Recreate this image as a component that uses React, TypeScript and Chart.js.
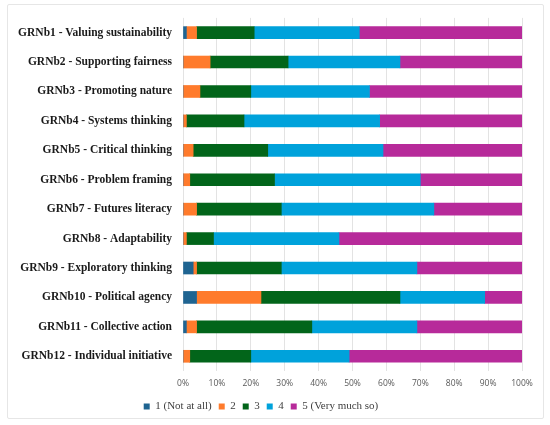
import { useEffect, useRef } from 'react';
import Chart from 'chart.js/auto';

const categories = [
  'GRNb1 - Valuing sustainability',
  'GRNb2 - Supporting fairness',
  'GRNb3 - Promoting nature',
  'GRNb4 - Systems thinking',
  'GRNb5 - Critical thinking',
  'GRNb6 - Problem framing',
  'GRNb7 - Futures literacy',
  'GRNb8 - Adaptability',
  'GRNb9 - Exploratory thinking',
  'GRNb10 - Political agency',
  'GRNb11 - Collective action',
  'GRNb12 - Individual initiative',
];

const seriesNames = ['1 (Not at all)', '2', '3', '4', '5 (Very much so)'];

// share of answers per category, in percent
const notAtAll = [1, 0, 0, 0, 0, 0, 0, 0, 3, 4, 1, 0];
const two = [3, 8, 5, 1, 3, 2, 4, 1, 1, 19, 3, 2];
const three = [17, 23, 15, 17, 22, 25, 25, 8, 25, 41, 34, 18];
const four = [31, 33, 35, 40, 34, 43, 45, 37, 40, 25, 31, 29];
const veryMuch = [48, 36, 45, 42, 41, 30, 26, 54, 31, 11, 31, 51];

const seriesColors = ['#1F6491', '#FF7B2C', '#02651A', '#00A2DB', '#B72A9A'];

const xTicks = ['0%', '10%', '20%', '30%', '40%', '50%', '60%', '70%', '80%', '90%', '100%'];

export default function App() {
  const canvasRef = useRef<HTMLCanvasElement | null>(null);

  useEffect(() => {
    document.body.style.margin = '0';
    if (!canvasRef.current) return;
    const values = [notAtAll, two, three, four, veryMuch];

    const chart = new Chart(canvasRef.current, {
      type: 'bar',
      data: {
        labels: categories,
        datasets: values.map((data, i) => ({
          label: seriesNames[i],
          data,
          backgroundColor: seriesColors[i],
          borderWidth: 0,
          barThickness: 12,
        })),
      },
      options: {
        indexAxis: 'y',
        animation: false,
        responsive: false,
        maintainAspectRatio: false,
        layout: { padding: { top: 8, right: 28, bottom: 3, left: 0 } },
        plugins: {
          tooltip: { enabled: false },
          legend: {
            position: 'bottom',
            labels: {
              boxWidth: 6,
              boxHeight: 6,
              padding: 7,
              color: '#404040',
              font: { family: 'Liberation Serif', size: 11 },
            },
          },
        },
        scales: {
          x: {
            stacked: true,
            min: 0,
            max: 100,
            border: { display: false },
            grid: { color: '#e3e3e3', drawTicks: false },
            afterFit: (scale: any) => {
              scale.height = 23;
            },
            ticks: {
              stepSize: 10,
              padding: 7,
              color: '#595959',
              font: { family: 'Open Sans', size: 8.5 },
              callback: (_v, i) => xTicks[i],
            },
          },
          y: {
            stacked: true,
            border: { display: false },
            grid: { display: false, drawTicks: false },
            afterFit: (scale: any) => {
              scale.width = 183;
            },
            ticks: {
              padding: 11,
              color: '#1a1a1a',
              font: { family: 'Liberation Serif', size: 11.5, weight: 'bold' },
            },
          },
        },
      },
    });

    return () => {
      chart.destroy();
    };
  }, []);

  return (
    <div style={{ position: 'relative', width: 550, height: 425, background: '#fff' }}>
      <div
        style={{
          position: 'absolute',
          left: 7,
          top: 4,
          width: 537,
          height: 415,
          border: '1px solid #e6e6e6',
          borderRadius: 2,
          boxSizing: 'border-box',
        }}
      />
      <canvas ref={canvasRef} width={550} height={425} style={{ position: 'absolute', left: 0, top: 0 }} />
    </div>
  );
}
